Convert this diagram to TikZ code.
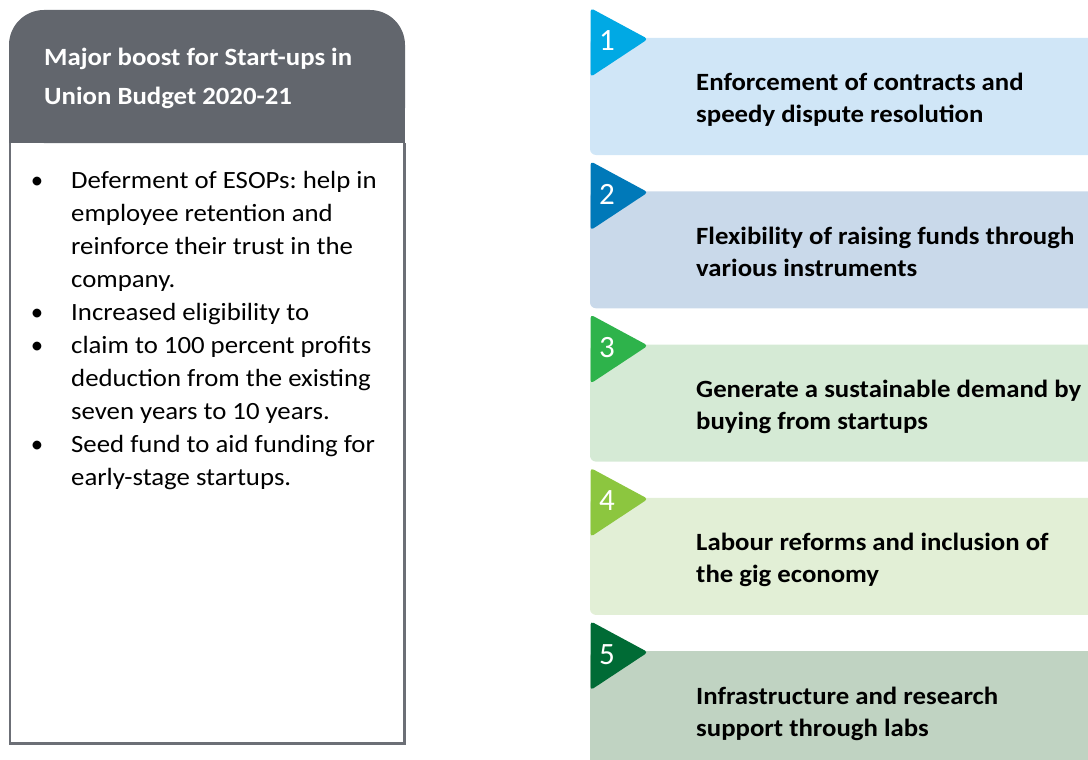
\documentclass[tikz,border=0pt]{standalone}
\usepackage{fontspec}
\setmainfont{Carlito}
\frenchspacing
\definecolor{hdrgrey}{HTML}{62666D}
\definecolor{edgegrey}{HTML}{6C6F76}
\definecolor{tabA}{HTML}{00A9E4}\definecolor{boxA}{HTML}{D0E6F7}
\definecolor{tabB}{HTML}{0079B9}\definecolor{boxB}{HTML}{C9D9EA}
\definecolor{tabC}{HTML}{2EB34B}\definecolor{boxC}{HTML}{D5EAD5}
\definecolor{tabD}{HTML}{8CC63F}\definecolor{boxD}{HTML}{E2EFD6}
\definecolor{tabE}{HTML}{006B35}\definecolor{boxE}{HTML}{C0D3C2}
% slightly widened lettering
\newcommand{\wide}[1]{\scalebox{1.08}[1]{#1}}
\tikzset{
  hdrtext/.style={anchor=base west, inner sep=0pt, text=white,
    font=\fontsize{24.8}{28}\selectfont\bfseries},
  bodytext/.style={anchor=base west, inner sep=0pt, text=black,
    font=\fontsize{24.8}{28}\selectfont},
  bulletmark/.style={anchor=base, inner sep=0pt, text=black,
    font=\fontsize{24.8}{28}\selectfont},
  cardtext/.style={anchor=base west, inner sep=0pt, text=black,
    font=\fontsize{24.8}{28}\selectfont\bfseries},
  numtext/.style={anchor=base, inner sep=0pt, text=white,
    font=\fontsize{31}{34}\selectfont},
}
\begin{document}
\begin{tikzpicture}[x=1pt,y=-1pt]
\useasboundingbox (0,0) rectangle (1088,760);
\clip (0,0) rectangle (1088,760);

% left panel: header with rounded top, white body with grey frame
\fill[hdrgrey, rounded corners=35pt] (9,10) rectangle (405,143);
\fill[hdrgrey] (9,80) rectangle (405,143);
\draw[edgegrey, line width=2.6pt] (10,143) -- (10,743.5) -- (404.5,743.5) -- (404.5,143);

\node[hdrtext] (h1) at (44,66) {\wide{Major boost for Start-ups in}};
\node[hdrtext] (h2) at (44,105) {\wide{Union Budget 2020-21}};

% bullet list
\foreach \k/\b/\t in {0/1/Deferment of ESOPs: help in,
                      1/0/employee retention and,
                      2/0/reinforce their trust in the,
                      3/0/company.,
                      4/1/Increased eligibility to,
                      5/1/claim to 100 percent profits,
                      6/0/deduction from the existing,
                      7/0/seven years to 10 years.,
                      8/1/Seed fund to aid funding for,
                      9/0/early-stage startups.}{
  \node[bodytext] (line\k) at (71,{188+33*\k}) {\wide{\t}};
  \ifnum\b=1 \node[bulletmark] (dot\k) at (37,{188+33*\k}) {\textbullet}; \fi
}

% numbered cards on the right
\foreach \i/\tc/\bc/\la/\lb in {
  1/tabA/boxA/Enforcement of contracts and/speedy dispute resolution,
  2/tabB/boxB/Flexibility of raising funds through/various instruments,
  3/tabC/boxC/Generate a sustainable demand by/buying from startups,
  4/tabD/boxD/Labour reforms and inclusion of/the gig economy,
  5/tabE/boxE/Infrastructure and research/support through labs}{
  \pgfmathsetmacro{\yo}{(\i-1)*153.3}
  \fill[\bc, rounded corners=6pt] (590,{38+\yo}) rectangle (1110,{155+\yo});
  \fill[\tc, rounded corners=3.5pt] (590.5,{8+\yo}) -- (648,{39+\yo}) -- (590.5,{77+\yo}) -- cycle;
  \node[numtext] (num\i) at (607,{51+\yo}) {\i};
  \node[cardtext] (card\i a) at (696,{91+\yo}) {\wide{\la}};
  \node[cardtext] (card\i b) at (696,{123+\yo}) {\wide{\lb}};
}
\end{tikzpicture}
\end{document}
